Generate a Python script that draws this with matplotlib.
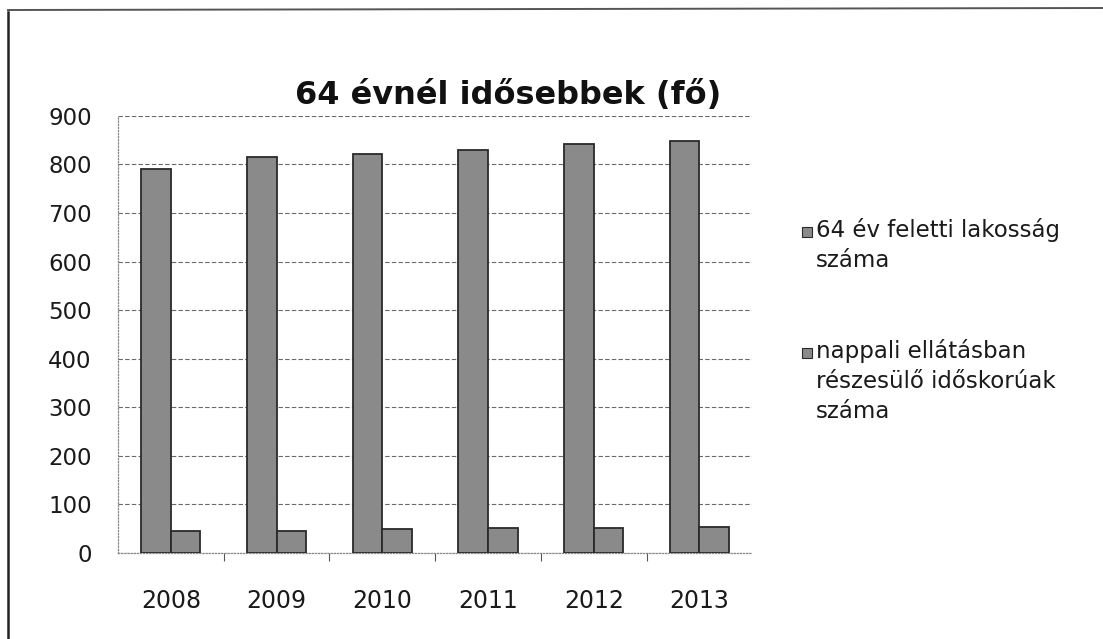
import numpy as np
import matplotlib
matplotlib.use('Agg')
import matplotlib.pyplot as plt
from matplotlib.lines import Line2D
from matplotlib.patches import Rectangle

# 64 év feletti lakosság és nappali ellátásban részesülők, 2008-2013
years = ['2008', '2009', '2010', '2011', '2012', '2013']
lakossag = [791, 816, 821, 829, 843, 849]
nappali = [45, 45, 49, 51, 51, 54]
labels = ['64 év feletti lakosság\nszáma',
          'nappali ellátásban\nrészesülő időskorúak\nszáma']
title = '64 évnél idősebbek (fő)'

plt.rcParams['font.family'] = ['DejaVu Sans']

bar_color = '#8a8a8a'
edge_color = '#2a2a2a'
grid_color = '#6a6a6a'

fig = plt.figure(figsize=(11.03, 6.39), dpi=100)
ax = fig.add_axes([0.107, 0.1346, 0.575, 0.684])

x = np.arange(len(years))
w = 0.28
ax.bar(x - w / 2, lakossag, width=w, color=bar_color, edgecolor=edge_color, linewidth=1.3, zorder=3)
ax.bar(x + w / 2, nappali, width=w, color=bar_color, edgecolor=edge_color, linewidth=1.3, zorder=3)

ax.set_xlim(-0.5, len(years) - 0.5)
ax.set_ylim(0, 900)
ax.set_yticks(np.arange(0, 901, 100))
ax.set_xticks(x)
ax.set_xticklabels(years)
ax.tick_params(axis='both', colors='#1a1a1a', length=0)
ax.tick_params(axis='y', labelsize=16.5, pad=19)
ax.tick_params(axis='x', labelsize=17, pad=26)

# category separators below the baseline
ax.set_xticks(np.arange(0.5, len(years) - 0.5, 1), minor=True)
ax.tick_params(axis='x', which='minor', length=6, width=0.8, color='#555555')

ax.grid(axis='y', color=grid_color, linestyle=(0, (4, 2)), linewidth=0.8, zorder=0)
for side in ['top', 'right']:
    ax.spines[side].set_visible(False)
for side in ['left', 'bottom']:
    ax.spines[side].set_color('#8a8a8a')
    ax.spines[side].set_linestyle((0, (1, 1.5)))
    ax.spines[side].set_linewidth(0.9)

fig.text(0.461, 0.851, title, ha='center', va='center', fontsize=23, fontweight='bold', color='#111111')

# legend drawn by hand so the swatch sits on the first line
leg_y = [1 - 232 / 639, 1 - 353 / 639]
for lab, yy in zip(labels, leg_y):
    fig.patches.append(Rectangle((802 / 1103, yy - 5 / 639), 10 / 1103, 10 / 639,
                                 transform=fig.transFigure, facecolor=bar_color,
                                 edgecolor=edge_color, linewidth=0.8))
    fig.text(816 / 1103, yy + 14 / 639, lab, ha='left', va='top', fontsize=16.5,
             color='#1a1a1a', linespacing=1.38)

# chart area frame (left and top edges)
fig.lines.append(Line2D([8 / 1103, 8 / 1103], [0, 1 - 12 / 639], transform=fig.transFigure,
                        color='#222222', linewidth=1.8))
fig.lines.append(Line2D([8 / 1103, 1], [1 - 10 / 639, 1 - 8 / 639], transform=fig.transFigure,
                        color='#555555', linewidth=1.4))

fig.savefig('out.png', dpi=100)
